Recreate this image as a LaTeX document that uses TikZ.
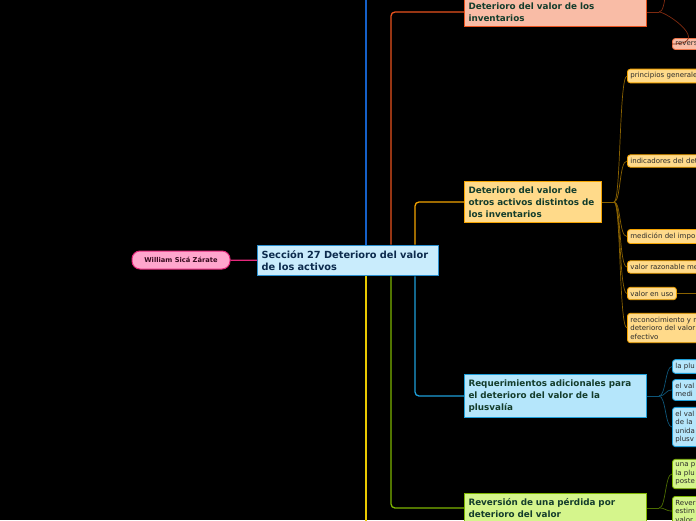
\documentclass[tikz,border=0pt]{standalone}
\usepackage{fontspec}
\setmainfont{DejaVu Sans}
\usepackage{xcolor}
\definecolor{nightbg}{HTML}{000000}
\definecolor{coreblue}{HTML}{C9ECFC}
\definecolor{coreedge}{HTML}{2A8FCF}
\definecolor{coreink}{HTML}{0C2B4D}
\definecolor{rosefill}{HTML}{FFA6CD}
\definecolor{roseedge}{HTML}{E6287C}
\definecolor{roseink}{HTML}{3A0B20}
\definecolor{salmonfill}{HTML}{F9BCA6}
\definecolor{rustred}{HTML}{E8521E}
\definecolor{rustdark}{HTML}{7E2A10}
\definecolor{amberfill}{HTML}{FFDA8A}
\definecolor{amber}{HTML}{F4A300}
\definecolor{amberdark}{HTML}{8A6200}
\definecolor{skyfill}{HTML}{B5E6FB}
\definecolor{skyedge}{HTML}{1E9FD9}
\definecolor{skydark}{HTML}{0E5679}
\definecolor{limefill}{HTML}{D5F58C}
\definecolor{limeedge}{HTML}{7DB500}
\definecolor{limedark}{HTML}{4B6C00}
\definecolor{royalblue}{HTML}{1560C8}
\definecolor{sunyellow}{HTML}{E8C800}
\definecolor{topicink}{HTML}{143D2C}
\definecolor{leafink}{HTML}{2A2A2A}
\usetikzlibrary{calc}

\begin{document}
\begin{tikzpicture}[x=1pt, y=-1pt,
  topic/.style={draw, line width=1pt, align=left, anchor=west, inner xsep=4pt,
                inner ysep=5pt, text=topicink,
                font=\bfseries\fontsize{8.8}{12}\selectfont},
  leaf/.style={draw, line width=0.8pt, rounded corners=3pt, align=left,
               anchor=west, inner xsep=3pt, inner ysep=3.5pt, text=leafink,
               font=\fontsize{7}{8.5}\selectfont},
  cutleaf/.style={leaf, text width=90pt},
  trunk/.style={line width=1.3pt, rounded corners=4pt},
  twig/.style={line width=0.7pt}
]
  \fill[nightbg] (0,0) rectangle (696,520);
  \useasboundingbox (0,0) rectangle (696,520);
  \clip (0,0) rectangle (696,520);

  % centre and author
  \node[draw=coreedge, fill=coreblue, line width=1pt, align=left, anchor=west,
        text width=173pt, inner xsep=4pt, inner ysep=5.5pt, text=coreink,
        font=\bfseries\fontsize{9.8}{12}\selectfont] (main) at (257,260.5)
    {Sección 27 Deterioro del valor\\de los activos};
  \node[draw=roseedge, fill=rosefill, line width=1pt, rounded corners=8pt,
        minimum width=98pt, minimum height=18pt, text=roseink,
        font=\bfseries\fontsize{6.7}{8}\selectfont] (will) at (181,260)
    {William Sicá Zárate};
  \draw[line width=1.2pt, roseedge] (will) -- (main);

  % main topics
  \node[topic, fill=salmonfill, draw=rustred, text width=174pt] (inv) at (464,12)
    {Deterioro del valor de los\\inventarios};
  \node[topic, fill=amberfill, draw=amber, text width=129pt] (other) at (464,202)
    {Deterioro del valor de\\otros activos distintos de\\los inventarios};
  \node[topic, fill=skyfill, draw=skyedge, text width=174pt] (goodw) at (464,396)
    {Requerimientos adicionales para\\el deterioro del valor de la\\plusvalía};
  \node[topic, fill=limefill, draw=limeedge, text width=174pt] (rever) at (464,508)
    {Reversión de una pérdida por\\deterioro del valor};

  % trunks
  \coordinate (topend) at (366,-4);
  \coordinate (bottomend) at (366,524);
  \coordinate (colA) at (391,0);
  \coordinate (colB) at (415,0);
  \draw[trunk, royalblue] (main.north -| topend) -- (topend);
  \draw[trunk, sunyellow] (main.south -| bottomend) -- (bottomend);
  \draw[trunk, rustred] (main.north -| colA) |- (inv.west);
  \draw[trunk, limeedge] (main.south -| colA) |- (rever.west);
  \draw[trunk, amber] (main.north -| colB) |- (other.west);
  \draw[trunk, skyedge] (main.south -| colB) |- (goodw.west);

  % leaves of inventarios
  \node[cutleaf, fill=salmonfill, draw=rustred!80] (revinv) at (672,44) {revers};
  \coordinate (invup) at (672,-24);
  \coordinate (invj) at (659,12);
  \draw[twig, rustdark] (inv.east) -- (invj);
  \foreach \c in {revinv, invup} {
    \draw[twig, rustdark] (invj) .. controls +(8,0) and +(-8,0) .. (\c);
  }

  % leaves of otros activos
  \node[cutleaf, fill=amberfill, draw=amber] (princ) at (627,76) {principios generales};
  \node[cutleaf, fill=amberfill, draw=amber] (indic) at (627,161) {indicadores del det};
  \node[cutleaf, fill=amberfill, draw=amber] (medic) at (627,236.5) {medición del impo};
  \node[cutleaf, fill=amberfill, draw=amber] (razon) at (627,267) {valor razonable me};
  \node[leaf, fill=amberfill, draw=amber] (uso) at (627,293.5) {valor en uso};
  \node[cutleaf, fill=amberfill, draw=amber] (recon) at (627,328)
    {reconocimiento y m\\deterioro del valor\\efectivo};
  \coordinate (othj) at (614,202);
  \coordinate (usoend) at (700,293.5);
  \draw[twig, amberdark] (other.east) -- (othj);
  \foreach \c in {princ, indic, medic, razon, uso, recon} {
    \draw[twig, amberdark] (othj) .. controls +(7,0) and +(-8,0) .. (\c.west);
  }
  \draw[twig, amberdark] (uso.east) -- (usoend);

  % leaves of plusvalia
  \node[cutleaf, fill=skyfill, draw=skyedge] (plu) at (672,366.5) {la plu};
  \node[cutleaf, fill=skyfill, draw=skyedge] (valmed) at (672,390) {el val\\medi};
  \node[cutleaf, fill=skyfill, draw=skyedge] (valuni) at (672,427)
    {el val\\de la\\unida\\plusv};
  \coordinate (goodj) at (659,396);
  \draw[twig, skydark] (goodw.east) -- (goodj);
  \foreach \c in {plu, valmed, valuni} {
    \draw[twig, skydark] (goodj) .. controls +(7,0) and +(-7,0) .. (\c.west);
  }

  % leaves of reversion
  \node[cutleaf, fill=limefill, draw=limeedge] (unap) at (672,474)
    {una p\\la plu\\poste};
  \node[cutleaf, fill=limefill, draw=limeedge] (revest) at (672,511)
    {Rever\\estim\\valor};
  \coordinate (revj) at (659,508);
  \draw[twig, limedark] (rever.east) -- (revj);
  \foreach \c in {unap, revest} {
    \draw[twig, limedark] (revj) .. controls +(7,0) and +(-7,0) .. (\c.west);
  }
\end{tikzpicture}
\end{document}
